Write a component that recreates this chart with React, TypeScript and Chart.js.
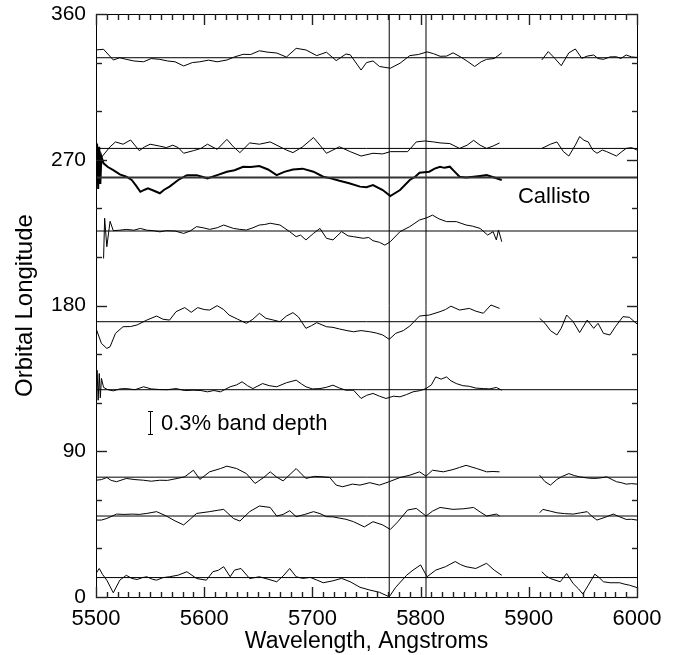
import React, { useEffect, useRef } from "react";
import { Chart, registerables } from "chart.js";

Chart.register(...registerables);

// ---- axes ----
const X_MIN = 5500;
const X_MAX = 6000;
const Y_MIN = 0;
const Y_MAX = 360;
const xTickStep = 100;
const yTickStep = 90;
const xMinorStep = 10;
const yMinorStep = 30;

// ---- reference feature wavelengths (vertical lines) ----
const featureLines = [5771, 5805];

// ---- baselines (orbital longitude of each spectrum) ----
const baselines = [333, 277, 259, 226, 170, 128, 74, 50, 12];
const callistoBaseline = 259;

// ---- spectra: [wavelength, plotted longitude] ----
const spec333a = [[5500,337.8],[5507,338.2],[5516,331.6],[5522,333],[5528,332],[5535,331],[5544,330.5],[5551,332.5],[5559,332],[5566,331],[5573,330.5],[5581,327.9],[5589,330],[5596,330.5],[5604,331.5],[5612,330.5],[5621,331.6],[5628,333.5],[5636,335.1],[5643,335],[5651,337.3],[5658,336.5],[5667,335.9],[5676,333.4],[5685,338.8],[5694,337.8],[5704,334.3],[5713,336.4],[5722,331.2],[5731,335.3],[5735,334.8],[5745,325.4],[5750,330],[5756,331],[5762,327.6],[5772,326.5],[5781,329.6],[5790,334.3],[5798,335],[5806,336.6],[5812,335.5],[5818,333.9],[5824,334],[5830,336],[5837,333.5],[5843,330.9],[5850,327.6],[5856,330.5],[5861,332],[5868,332.5],[5875,336]];
const spec333b = [[5912,331.6],[5918,336.8],[5924,332.6],[5930,328.1],[5937,336],[5943,338.4],[5949,332.6],[5954,334],[5960,334.7],[5964,332.5],[5969,332],[5975,333.5],[5981,333.6],[5985,332.5],[5990,334.7],[5995,333.5],[6000,333.2]];

const spec277a = [[5503,269.8],[5513,278],[5518,281],[5525,279.6],[5532,282.2],[5540,275.6],[5545,278],[5550,279.6],[5559,278.4],[5565,277.5],[5571,279],[5576,277.5],[5581,274],[5590,275.6],[5597,277],[5603,279.6],[5612,276.4],[5621,282.6],[5627,278],[5633,274.4],[5642,280.4],[5651,279.6],[5661,281],[5670,278],[5676,276],[5682,274.4],[5691,278],[5701,283.7],[5707,279],[5713,274],[5719,276],[5725,278],[5735,275],[5745,272.3],[5756,274],[5765,273.6],[5772,275],[5781,275],[5788,275],[5796,281],[5804,281.6],[5812,281],[5818,280.4],[5827,280],[5836,277],[5843,279],[5849,282],[5855,279],[5861,277],[5867,278.5],[5873,280.4]];
const spec277b = [[5912,277],[5920,279.6],[5926,281],[5932,275],[5937,272.3],[5943,279],[5947,284.3],[5951,282],[5955,281],[5959,276],[5963,274],[5968,276],[5972,275],[5977,273.5],[5981,272.3],[5986,275],[5990,277],[5995,277.5],[6000,276]];

const specCallisto = [[5500,262],[5501,280],[5502,252],[5503,278],[5504,255],[5505,272],[5507,267.8],[5511,265.5],[5516,263.6],[5522,261],[5528,259.5],[5533,257.5],[5537,254],[5541,250.2],[5545,251.5],[5548,252.3],[5553,251],[5559,249.3],[5563,251.5],[5568,253.4],[5576,257.5],[5584,260.5],[5593,260.5],[5598,259.5],[5603,258.5],[5612,260.5],[5621,262.6],[5628,263.5],[5636,265.7],[5643,265.5],[5651,266.1],[5659,264],[5667,260.5],[5674,262.5],[5682,264],[5691,264.5],[5701,262.6],[5710,259.5],[5717,258.5],[5725,257],[5734,255.5],[5744,253.4],[5750,253],[5756,254.4],[5765,251.3],[5772,247.6],[5781,251.3],[5790,257.5],[5795,259.5],[5799,262],[5808,262.6],[5813,264.5],[5818,265.7],[5822,265],[5827,265.7],[5831,263],[5836,259.5],[5842,259],[5849,259.5],[5855,260],[5861,260.5],[5868,259],[5875,257.5]];

const spec226 = [[5507,209],[5508,233.9],[5510,216.3],[5513,232],[5516,226.2],[5522,226.5],[5528,227],[5535,226.5],[5541,227.6],[5547,226.5],[5553,226.2],[5559,225.5],[5565,226.2],[5573,226],[5581,224.5],[5587,226],[5593,228.7],[5599,228],[5605,227],[5612,228],[5618,229.7],[5627,227.6],[5633,227],[5639,226.6],[5645,228],[5651,229.7],[5656,230],[5661,230.8],[5670,229.7],[5679,225.6],[5685,222.5],[5689,223.5],[5694,220.5],[5701,224.5],[5707,227.6],[5713,221.5],[5719,220.5],[5727,225.6],[5733,223],[5738,222.5],[5747,221.5],[5752,222],[5756,220],[5762,219],[5767,217.3],[5772,219.4],[5781,225.6],[5790,228.7],[5799,232.8],[5805,234],[5811,235.8],[5817,233.5],[5824,231.8],[5833,231.8],[5842,229.7],[5848,229],[5855,227.6],[5862,223.5],[5867,225.6],[5870,220.5],[5872,226.6],[5875,219.4]];

const spec170a = [[5500,165.9],[5505,156.6],[5510,153.5],[5513,154.5],[5518,162.8],[5525,166.9],[5532,167],[5538,168],[5547,171],[5556,173.5],[5562,171.5],[5568,171],[5574,176.2],[5582,178.7],[5588,175.8],[5594,178.7],[5600,177.5],[5605,177.2],[5612,179.9],[5618,177.5],[5623,174.1],[5631,171.5],[5639,169],[5645,171.5],[5651,175.2],[5657,172.1],[5664,171],[5670,170],[5676,173.5],[5682,175.6],[5687,173],[5694,165.9],[5699,167.5],[5704,169.4],[5713,166.9],[5719,166.5],[5725,165.5],[5732,164.5],[5738,163.8],[5745,164.5],[5753,163.8],[5759,163],[5765,161.8],[5771,159.1],[5777,162.8],[5784,164.5],[5790,167.3],[5799,173.5],[5808,174.1],[5818,176.2],[5823,177.5],[5828,179.6],[5836,177.2],[5845,178.2],[5851,176.5],[5858,175.2],[5865,180.3],[5873,178.2]];
const spec170b = [[5910,172.1],[5915,169],[5920,164.5],[5926,161.8],[5930,166],[5935,174.1],[5941,170],[5947,163.3],[5954,171],[5960,165.9],[5964,169],[5969,162.8],[5975,161.8],[5980,166.9],[5987,173.1],[5993,172.7],[6000,168.6]];

const spec128 = [[5500,126],[5501,140],[5502,121.5],[5503,138],[5504,123],[5505,135],[5507,129.4],[5511,128],[5516,127.3],[5522,128.5],[5528,128.7],[5536,128],[5544,129.8],[5551,128.5],[5559,128.1],[5566,128],[5574,128.7],[5582,127.5],[5590,127.7],[5597,127.5],[5603,126.7],[5609,127.5],[5615,126.7],[5624,129.8],[5630,131],[5635,132.9],[5640,130.5],[5645,128.7],[5654,131.8],[5660,130.5],[5667,129.8],[5676,132.3],[5685,133.9],[5690,131.5],[5694,129.8],[5700,128.5],[5707,128.7],[5713,129.5],[5719,130.8],[5725,129],[5731,127.7],[5738,127.7],[5745,122.6],[5750,124.5],[5756,125.7],[5762,124],[5768,122.6],[5775,124],[5781,123.6],[5787,125],[5793,126.7],[5800,127.5],[5805,128.7],[5810,131],[5814,135.9],[5819,134.5],[5824,135.9],[5828,133.5],[5833,131.8],[5839,130.5],[5845,130.1],[5851,129],[5858,128.7],[5864,128.5],[5870,129.4],[5875,127.7]];

const spec74a = [[5500,72.1],[5505,72.5],[5510,73.8],[5514,72],[5519,71.2],[5528,73.2],[5536,72.5],[5544,72.1],[5551,71.5],[5559,72.1],[5566,72],[5575,73.2],[5582,74.2],[5590,78.3],[5596,72.6],[5605,77.3],[5615,79.3],[5621,80.8],[5630,79.3],[5639,76.2],[5647,70.1],[5655,73.8],[5661,77.3],[5667,74],[5673,71.7],[5685,79.3],[5694,73.2],[5702,74.5],[5710,74.2],[5716,73.8],[5722,69.1],[5728,68.1],[5737,69.7],[5744,69.1],[5753,70.6],[5762,69.1],[5771,71.2],[5781,73.8],[5790,75.2],[5799,77.3],[5805,74.6],[5811,78.3],[5821,77.3],[5830,78.7],[5836,80],[5842,81.3],[5852,79.3],[5861,77.3],[5867,77.5],[5873,77.3]];
const spec74b = [[5910,75.2],[5915,71.2],[5920,69.1],[5926,72.6],[5931,74.5],[5937,76.2],[5942,75],[5947,74.2],[5954,73.5],[5960,73.2],[5966,73.5],[5972,74.2],[5977,72.5],[5981,71.2],[5986,70.5],[5990,69.7],[5995,70],[6000,69.7]];

const spec50a = [[5500,47.5],[5505,47.5],[5510,48.5],[5519,51.2],[5526,51],[5534,51.2],[5540,51],[5547,51.6],[5556,52.7],[5565,50],[5573,47],[5581,44.5],[5587,48],[5593,51.6],[5605,52.7],[5612,53.5],[5618,54.1],[5627,48.5],[5633,46.9],[5642,52.7],[5651,56.2],[5661,55.3],[5667,50],[5673,51],[5679,53.3],[5685,49.6],[5693,51],[5701,52.7],[5707,51.5],[5713,49.6],[5719,49.5],[5725,48.7],[5731,48],[5738,46.5],[5748,43.3],[5756,46.5],[5765,44.5],[5772,41.7],[5779,46.5],[5788,53.7],[5796,54.7],[5805,50],[5811,53],[5818,55.3],[5830,54.1],[5840,54.5],[5849,55.3],[5855,52.5],[5861,50],[5870,51.2],[5873,50]];
const spec50b = [[5910,52],[5913,54.1],[5920,53],[5926,52],[5933,51.5],[5941,51.2],[5948,52],[5954,52.7],[5958,50],[5963,47.5],[5972,49.6],[5978,51.2],[5984,49.5],[5990,47.9],[5995,48],[6000,47.5]];

const spec12a = [[5500,14.5],[5503,17.6],[5506,14],[5510,10.4],[5516,2.6],[5522,10.4],[5528,13.4],[5533,11.5],[5538,10.8],[5543,12],[5547,12.5],[5552,11],[5556,10.4],[5562,12],[5568,12.5],[5576,13.5],[5584,15.6],[5593,11.4],[5602,10.4],[5608,15.6],[5613,16.5],[5618,18.7],[5624,12.5],[5628,16.6],[5634,17.6],[5642,11.4],[5651,12.5],[5659,11],[5667,9.4],[5673,13],[5679,17.6],[5685,12.5],[5691,11.5],[5698,12.1],[5704,10.5],[5710,8.8],[5719,10],[5727,11.5],[5735,9.4],[5744,6],[5753,4.3],[5762,2.9],[5771,0.1],[5777,6],[5787,13.4],[5793,16.6],[5800,19.8],[5806,12.5],[5814,16.6],[5823,18.7],[5832,21.9],[5837,20],[5842,18.7],[5851,17.6],[5861,20.8],[5868,16.6],[5875,13.4]];
const spec12b = [[5912,15.6],[5916,13],[5920,11.4],[5929,9.4],[5935,14.5],[5941,8.3],[5946,5],[5950,1.8],[5955,7.3],[5961,14.1],[5965,12],[5969,9.4],[5975,8.8],[5984,8.8],[5988,8],[5993,7.3],[6000,5.8]];

const thinSpectra = [spec333a, spec333b, spec277a, spec277b, spec226, spec170a, spec170b, spec128, spec74a, spec74b, spec50a, spec50b, spec12a, spec12b];

// ---- annotations ----
const callistoLabel = "Callisto";
const scaleBarLabel = "0.3% band depth";
const scaleBarWl = 5550;
const scaleBarLow = 100.6;
const scaleBarHigh = 114.8;

const FONT = "'Liberation Sans', Arial, Helvetica, sans-serif";

const toXY = (arr: number[][]) => arr.map(([x, y]) => ({ x, y }));

const xMinorTicks: number[] = [];
for (let v = X_MIN; v <= X_MAX; v += xMinorStep) xMinorTicks.push(v);
const yMinorTicks: number[] = [];
for (let v = Y_MIN; v <= Y_MAX; v += yMinorStep) yMinorTicks.push(v);

const framePlugin = {
  id: "idlFrame",
  afterDraw(chart: any) {
    const { ctx, chartArea: a, scales } = chart;
    const xs = scales.x;
    const ys = scales.y;
    const L = Math.round(a.left);
    const R = Math.round(a.right);
    const T = Math.round(a.top);
    const B = Math.round(a.bottom);
    ctx.save();
    ctx.fillStyle = "#000";
    // frame
    ctx.fillRect(L, T, R - L + 1, 1);
    ctx.fillRect(L, B, R - L + 1, 1);
    ctx.fillRect(L, T, 1, B - T + 1);
    ctx.fillRect(R, T, 1, B - T + 1);
    // x ticks (inward, bottom and top)
    ctx.fillStyle = "#222";
    xMinorTicks.forEach((v) => {
      const p = Math.round(xs.getPixelForValue(v));
      const len = v % xTickStep === 0 ? 11 : 6;
      ctx.fillRect(p - 0.2, B - len + 1, 1.4, len);
      ctx.fillRect(p - 0.2, T, 1.4, len);
    });
    // y ticks (inward, left and right)
    yMinorTicks.forEach((v) => {
      const p = Math.round(ys.getPixelForValue(v));
      const len = v % yTickStep === 0 ? 11 : 6;
      ctx.fillRect(L, p - 0.2, len, 1.4);
      ctx.fillRect(R - len + 1, p - 0.2, len, 1.4);
    });

    // scale bar
    ctx.fillStyle = "#000";
    const bx = Math.round(xs.getPixelForValue(scaleBarWl));
    const by0 = Math.round(ys.getPixelForValue(scaleBarLow));
    const by1 = Math.round(ys.getPixelForValue(scaleBarHigh));
    ctx.fillRect(bx, by1, 1, by0 - by1 + 1);
    ctx.fillRect(bx - 2, by0, 5, 1);
    ctx.fillRect(bx - 2, by1, 5, 1);

    ctx.font = `22px ${FONT}`;
    ctx.textBaseline = "middle";
    ctx.textAlign = "left";
    ctx.fillText(scaleBarLabel, bx + 11, (by0 + by1) / 2 + 1);
    ctx.fillText(callistoLabel, xs.getPixelForValue(5890), ys.getPixelForValue(247.3));
    ctx.restore();
  },
};

export default function App() {
  const ref = useRef<HTMLCanvasElement | null>(null);

  useEffect(() => {
    document.body.style.margin = "0";
    const canvas = ref.current;
    if (!canvas) return;

    const datasets: any[] = [];
    baselines.forEach((b) => {
      const isC = b === callistoBaseline;
      datasets.push({
        data: [{ x: X_MIN, y: b }, { x: X_MAX, y: b }],
        borderColor: isC ? "#333" : "#000",
        borderWidth: isC ? 2 : 1,
        pointRadius: 0,
      });
    });
    featureLines.forEach((w) => {
      datasets.push({
        data: [{ x: w, y: Y_MIN }, { x: w, y: Y_MAX }],
        borderColor: "#000",
        borderWidth: 1,
        pointRadius: 0,
      });
    });
    thinSpectra.forEach((s) => {
      datasets.push({
        data: toXY(s),
        borderColor: "#000",
        borderWidth: 1,
        pointRadius: 0,
      });
    });
    datasets.push({
      data: toXY(specCallisto),
      borderColor: "#000",
      borderWidth: 2,
      pointRadius: 0,
    });

    const zeroPad = (scale: any) => {
      scale.paddingLeft = 0;
      scale.paddingRight = 0;
      scale.paddingTop = 0;
      scale.paddingBottom = 0;
    };

    const chart = new Chart(canvas, {
      type: "line",
      data: { datasets },
      plugins: [framePlugin],
      options: {
        animation: false,
        responsive: false,
        events: [],
        layout: { padding: { top: 14, right: 39, left: 0, bottom: 0 } },
        plugins: { legend: { display: false }, tooltip: { enabled: false } },
        elements: { line: { tension: 0 } },
        scales: {
          x: {
            type: "linear",
            min: X_MIN,
            max: X_MAX,
            grid: { display: false, drawTicks: false },
            border: { display: false },
            ticks: {
              stepSize: xTickStep,
              autoSkip: false,
              maxRotation: 0,
              padding: 9,
              color: "#000",
              font: { family: FONT, size: 22 },
              callback: (v: any) => String(v),
            },
            title: {
              display: true,
              text: "Wavelength, Angstroms",
              color: "#000",
              font: { family: FONT, size: 23 },
              padding: { top: 0, bottom: 0 },
            },
            afterFit: (scale: any) => {
              scale.height = 58;
              zeroPad(scale);
            },
          },
          y: {
            type: "linear",
            min: Y_MIN,
            max: Y_MAX,
            grid: { display: false, drawTicks: false },
            border: { display: false },
            ticks: {
              stepSize: yTickStep,
              autoSkip: false,
              padding: 10,
              color: "#000",
              font: { family: FONT, size: 21 },
              callback: (v: any) => String(v),
            },
            title: {
              display: true,
              text: "Orbital Longitude",
              color: "#000",
              font: { family: FONT, size: 24 },
              padding: { top: 11, bottom: 0 },
            },
            afterFit: (scale: any) => {
              scale.width = 96;
              zeroPad(scale);
            },
          },
        },
      },
    });
    return () => chart.destroy();
  }, []);

  return (
    <div style={{ width: 676, height: 655, background: "#fff" }}>
      <canvas ref={ref} width={676} height={655} style={{ display: "block" }} />
    </div>
  );
}
